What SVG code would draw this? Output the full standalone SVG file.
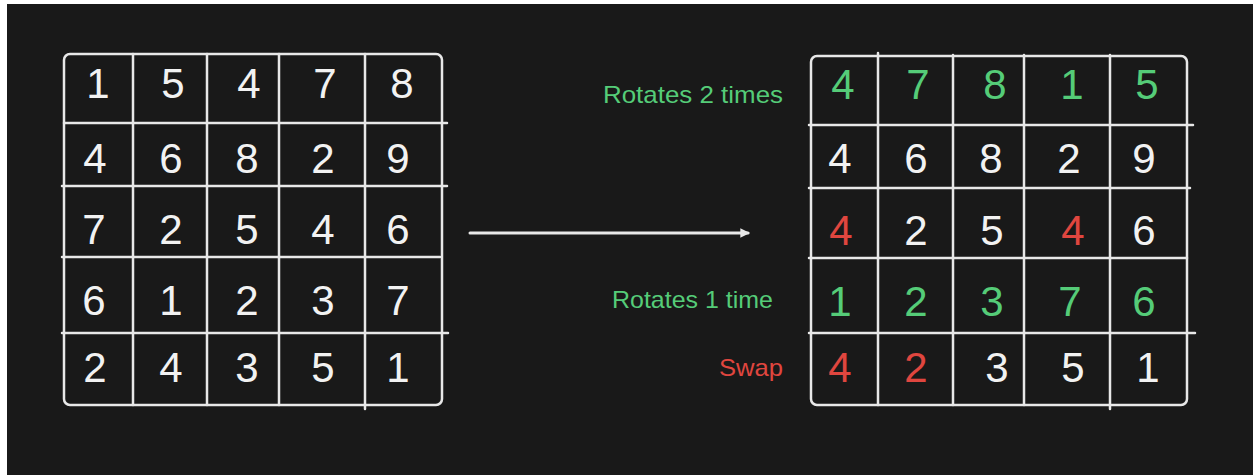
<svg xmlns="http://www.w3.org/2000/svg" width="1253" height="475" viewBox="0 0 1253 475">
  <style>
    .grid { fill: none; stroke: #e8e8e8; stroke-width: 2.5; stroke-linecap: round; }
    .num { font-family: "Liberation Sans", "DejaVu Sans", sans-serif; font-size: 42px; text-anchor: middle; }
    .w { fill: #f2f2f2; }
    .g { fill: #55cc78; }
    .r { fill: #e0463f; }
    .lbl { font-family: "Liberation Sans", "DejaVu Sans", sans-serif; font-size: 24px; }
    .conn { stroke: #e8e8e8; stroke-width: 3; stroke-linecap: round; fill: none; }
  </style>
  <defs>
    <marker id="ah" viewBox="0 0 10 10" refX="8" refY="5" markerWidth="3.2" markerHeight="3.2" orient="auto" markerUnits="strokeWidth">
      <path d="M0,0 L10,5 L0,10 z" fill="#e8e8e8"/>
    </marker>
  </defs>
  <rect x="0" y="0" width="1253" height="475" fill="#ffffff"/>
  <rect x="7" y="4" width="1246" height="471" fill="#191919"/>

  <g id="matrix-original">
    <rect class="grid" x="64" y="54" width="378" height="351" rx="6"/>
    <path class="grid" d="M133 54 V405 M207 54 V405 M279 54 V405 M365 54 V409 M64 123 H447 M62 186 H447 M62 257 H440 M62 333 H448"/>
    <g class="num w">
      <text x="98" y="98">1</text><text x="173" y="98">5</text><text x="249" y="98">4</text><text x="325" y="98">7</text><text x="402" y="98">8</text>
      <text x="95" y="173">4</text><text x="171" y="173">6</text><text x="247" y="173">8</text><text x="323" y="173">2</text><text x="398" y="173">9</text>
      <text x="94" y="244">7</text><text x="171" y="244">2</text><text x="247" y="244">5</text><text x="323" y="244">4</text><text x="398" y="244">6</text>
      <text x="94" y="315">6</text><text x="171" y="315">1</text><text x="247" y="315">2</text><text x="323" y="315">3</text><text x="398" y="315">7</text>
      <text x="95" y="382">2</text><text x="171" y="382">4</text><text x="247" y="382">3</text><text x="323" y="382">5</text><text x="398" y="382">1</text>
    </g>
  </g>

  <g id="connectors">
    <line class="conn" x1="470" y1="233" x2="748" y2="233" marker-end="url(#ah)"/>
  </g>

  <g id="labels">
    <text class="lbl g" x="603" y="103" textLength="180" lengthAdjust="spacingAndGlyphs">Rotates 2 times</text>
    <text class="lbl g" x="612" y="308" textLength="161" lengthAdjust="spacingAndGlyphs">Rotates 1 time</text>
    <text class="lbl r" x="719" y="376" textLength="64" lengthAdjust="spacingAndGlyphs">Swap</text>
  </g>

  <g id="matrix-result">
    <rect class="grid" x="811" y="56" width="376" height="349" rx="6"/>
    <path class="grid" d="M878 53 V405 M953 55 V405 M1024 55 V405 M1110 55 V409 M809 125 H1193 M809 188 H1190 M809 258 H1187 M809 333 H1195"/>
    <g class="num">
      <text class="g" x="843" y="99">4</text><text class="g" x="918" y="99">7</text><text class="g" x="995" y="99">8</text><text class="g" x="1072" y="99">1</text><text class="g" x="1147" y="99">5</text>
      <text class="w" x="840" y="173">4</text><text class="w" x="916" y="173">6</text><text class="w" x="991" y="173">8</text><text class="w" x="1069" y="173">2</text><text class="w" x="1144" y="173">9</text>
      <text class="r" x="841" y="245">4</text><text class="w" x="916" y="245">2</text><text class="w" x="992" y="245">5</text><text class="r" x="1073" y="245">4</text><text class="w" x="1144" y="245">6</text>
      <text class="g" x="840" y="316">1</text><text class="g" x="916" y="316">2</text><text class="g" x="992" y="316">3</text><text class="g" x="1070" y="316">7</text><text class="g" x="1144" y="316">6</text>
      <text class="r" x="840" y="382">4</text><text class="r" x="916" y="382">2</text><text class="w" x="997" y="382">3</text><text class="w" x="1073" y="382">5</text><text class="w" x="1148" y="382">1</text>
    </g>
  </g>
</svg>
